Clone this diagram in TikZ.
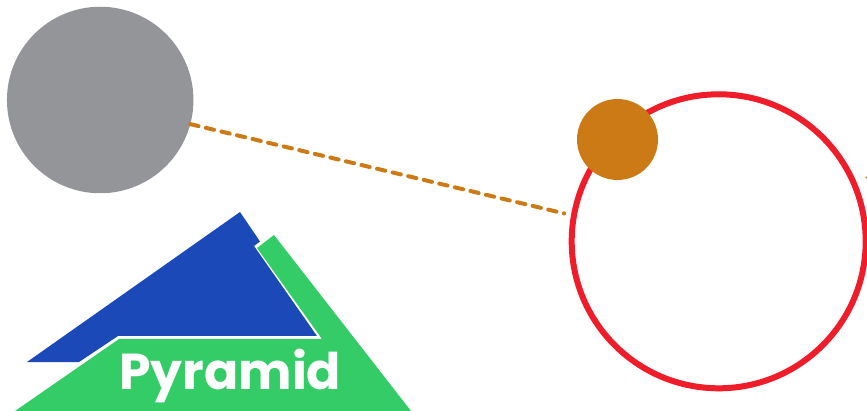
\documentclass[tikz,border=0pt]{standalone}
\usepackage{fontspec}
\setmainfont{Poppins}
\definecolor{graydisc}{HTML}{939598}
\definecolor{ochre}{HTML}{CC7A15}
\definecolor{redring}{HTML}{EF1C29}
\definecolor{pyblue}{HTML}{1B4AB8}
\definecolor{pygreen}{HTML}{33CC66}
\tikzset{
  disc/.style={circle,inner sep=0pt,outer sep=0pt,minimum size=#1},
  link/.style={ochre,line width=4pt,line cap=round,dash pattern=on 8.5pt off 7.5pt},
}
\begin{document}
\begin{tikzpicture}[x=1pt,y=-1pt]
\useasboundingbox (0,0) rectangle (867,411);
\fill[pygreen] (274,235) -- (411,411) -- (15,411) -- (119,339) -- (322,339) -- (257,248) -- cycle;
\fill[pyblue] (240,212) -- (260,241.5) -- (254,246) -- (317,336) -- (118,336) -- (79,362) -- (27,362) -- cycle;
\node[white,anchor=base west,inner sep=0pt,font=\fontsize{50.5}{50.5}\selectfont\bfseries] (title) at (119,389.5) {Pyramid};
\node[disc=186.5pt,fill=graydisc] (source) at (100.2,100) {};
\node[disc=294pt,draw=redring,line width=6pt] (ring) at (718.7,241.3) {};
\node[disc=81pt,fill=ochre] (planet) at (617.5,139.5) {};
\draw[link,shorten >=10pt] (source.-15.5) -- (ring.170.3);
\fill[ochre] (866.5,177.5) circle (1.2pt);
\end{tikzpicture}
\end{document}
